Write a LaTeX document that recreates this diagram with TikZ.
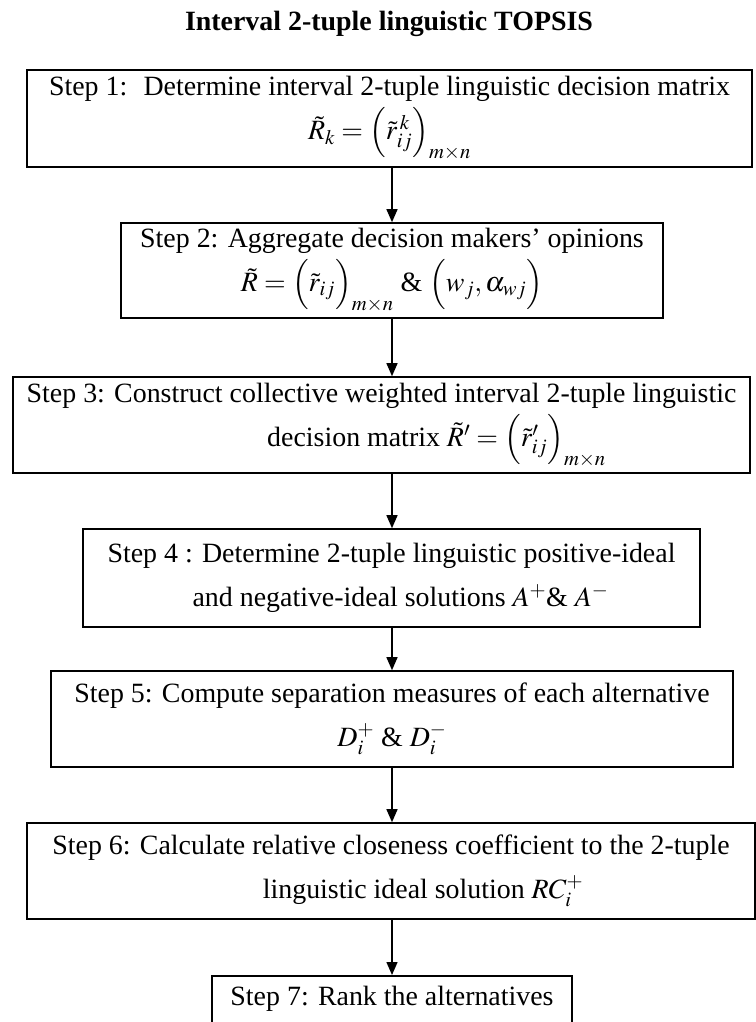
\documentclass[tikz,border=0pt]{standalone}
\usepackage{mathptmx}
\usepackage{fontspec}
\setmainfont{Liberation Serif}
\usetikzlibrary{arrows.meta}

\begin{document}
\begin{tikzpicture}[x=1bp,y=-1bp,
  >={Triangle[length=13bp,width=11bp]},
  every node/.style={font=\fontsize{28}{44}\selectfont},
  stepbox/.style={draw, line width=1.6bp, align=center, inner sep=0pt},
  flow/.style={->, line width=1.4bp}]
  \useasboundingbox (0,0) rectangle (756,1022);
  % title
  \node[font=\fontsize{28}{34}\selectfont\bfseries] (title) at (389,24) {Interval 2-tuple linguistic TOPSIS};
  \coordinate (spine) at (392,0);
  % steps
  \node[stepbox, minimum width=725bp, minimum height=97bp] (s1) at (389.5,118.5)
    {Step 1:~ Determine interval 2-tuple linguistic decision matrix\\
     $\tilde{R}_k=\Bigl(\tilde{r}_{ij}^{\,k}\Bigr)_{m\times n}$};
  \node[stepbox, minimum width=542bp, minimum height=95bp] (s2) at (392,270.5)
    {Step 2: Aggregate decision makers' opinions\\
     $\tilde{R}=\Bigl(\tilde{r}_{ij}\Bigr)_{m\times n}$ \& $\Bigl(w_j,\alpha_{wj}\Bigr)$};
  \node[stepbox, minimum width=737bp, minimum height=96bp] (s3) at (381.5,425)
    {Step 3: Construct collective weighted interval 2-tuple linguistic\\
     \hspace*{110bp}decision matrix $\tilde{R}'=\Bigl(\tilde{r}'_{ij}\Bigr)_{m\times n}$};
  \node[stepbox, minimum width=617bp, minimum height=98bp] (s4) at (391.5,578)
    {Step 4 : Determine 2-tuple linguistic positive-ideal\\
     \hspace*{18bp}and negative-ideal solutions $A^{+}$\& $A^{-}$};
  \node[stepbox, minimum width=682bp, minimum height=96bp] (s5) at (392,719)
    {Step 5: Compute separation measures of each alternative\\
     $D_i^{+}$ \& $D_i^{-}$};
  \node[stepbox, minimum width=728bp, minimum height=96bp] (s6) at (391,871)
    {Step 6: Calculate relative closeness coefficient to the 2-tuple\\
     \hspace*{64bp}linguistic ideal solution $RC_i^{+}$};
  \node[stepbox, minimum width=360bp, anchor=north, inner ysep=10bp, text depth=40bp] (s7) at (392,975)
    {Step 7: Rank the alternatives};
  % flow
  \draw[flow] (s1.south -| spine) -- (s2.north -| spine);
  \draw[flow] (s2.south -| spine) -- (s3.north -| spine);
  \draw[flow] (s3.south -| spine) -- (s4.north -| spine);
  \draw[flow] (s4.south -| spine) -- (s5.north -| spine);
  \draw[flow] (s5.south -| spine) -- (s6.north -| spine);
  \draw[flow] (s6.south -| spine) -- (s7.north -| spine);
\end{tikzpicture}
\end{document}
